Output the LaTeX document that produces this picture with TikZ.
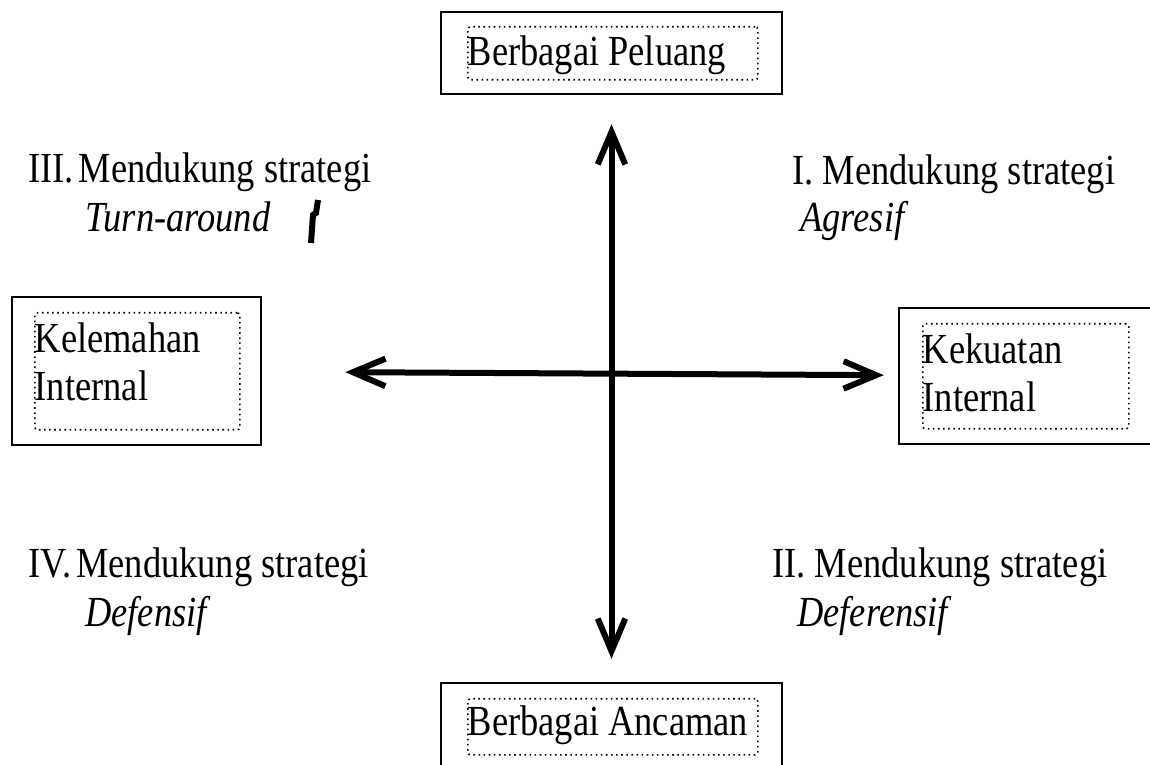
\documentclass[tikz,border=0pt]{standalone}
\usepackage{fontspec}
\setmainfont{Liberation Serif}[FakeStretch=0.85]
\usetikzlibrary{arrows.meta}

\begin{document}
\begin{tikzpicture}[
  x=0.2mm, y=-0.2mm,
  font=\fontsize{24.4}{27.3}\selectfont,
  frame/.style={draw, line width=1.4pt, inner sep=0pt},
  dotbox/.style={draw, dotted, line width=0.9pt, rounded corners=1.5pt, inner sep=0pt, align=flush left, anchor=north west},
  lbl/.style={anchor=base west, inner sep=0pt},
  arr/.style={{Straight Barb[length=6.5mm, width=5.5mm]}-{Straight Barb[length=6.5mm, width=5.5mm]}, line width=1.2mm}
]
\useasboundingbox (0,0) rectangle (1150,765);
\clip (0,0) rectangle (1150,765);

% outer frames
\node[frame, minimum width=68.2mm, minimum height=16.4mm] (peluang) at (611.5,53) {};
\node[frame, minimum width=49.8mm, minimum height=29.6mm] (kelemahan) at (136.5,371) {};
\node[frame, minimum width=52.2mm, minimum height=27.2mm] (kekuatan) at (1029.5,376) {};
\node[frame, minimum width=68.2mm, minimum height=19.4mm] (ancaman) at (611.5,731.5) {};

% dotted text boxes
\node[dotbox, text width=58mm, text height=7.8mm, text depth=2.8mm] (peluangT) at (467,26) {Berbagai Peluang};
\node[dotbox, text width=41mm, text height=8mm, text depth=15.4mm] (kelemahanT) at (34,312) {Kelemahan\\Internal};
\node[dotbox, text width=41.2mm, text height=8mm, text depth=13mm] (kekuatanT) at (922,323) {Kekuatan\\Internal};
\node[dotbox, text width=58mm, text height=7.4mm, text depth=3.8mm] (ancamanT) at (467,698) {Berbagai Ancaman};

% axes
\draw[arr, shorten <=5.8mm, shorten >=4.6mm] (peluang) -- (ancaman);
\draw[arr, shorten <=16.6mm, shorten >=2.8mm] (kelemahan) -- (kekuatan);

% quadrants
\node[lbl] (q1a) at (792,185) {I. Mendukung strategi};
\node[lbl] (q1b) at (800,232) {\textit{Agresif}};
\node[lbl] (q2a) at (772,578) {II. Mendukung strategi};
\node[lbl] (q2b) at (797,627) {\textit{Deferensif}};
\node[lbl] (q3a) at (28,183) {III.\kern1mm Mendukung strategi};
\node[lbl] (q3b) at (85,232) {\textit{Turn-around}};
\node[lbl] (q4a) at (28,578) {IV.\kern1mm Mendukung strategi};
\node[lbl] (q4b) at (85,627) {\textit{Defensif}};

% cursor mark
\draw[line width=1.2mm] (318,200) -- (316,213) -- (313,215) -- (311,243);
\end{tikzpicture}
\end{document}
